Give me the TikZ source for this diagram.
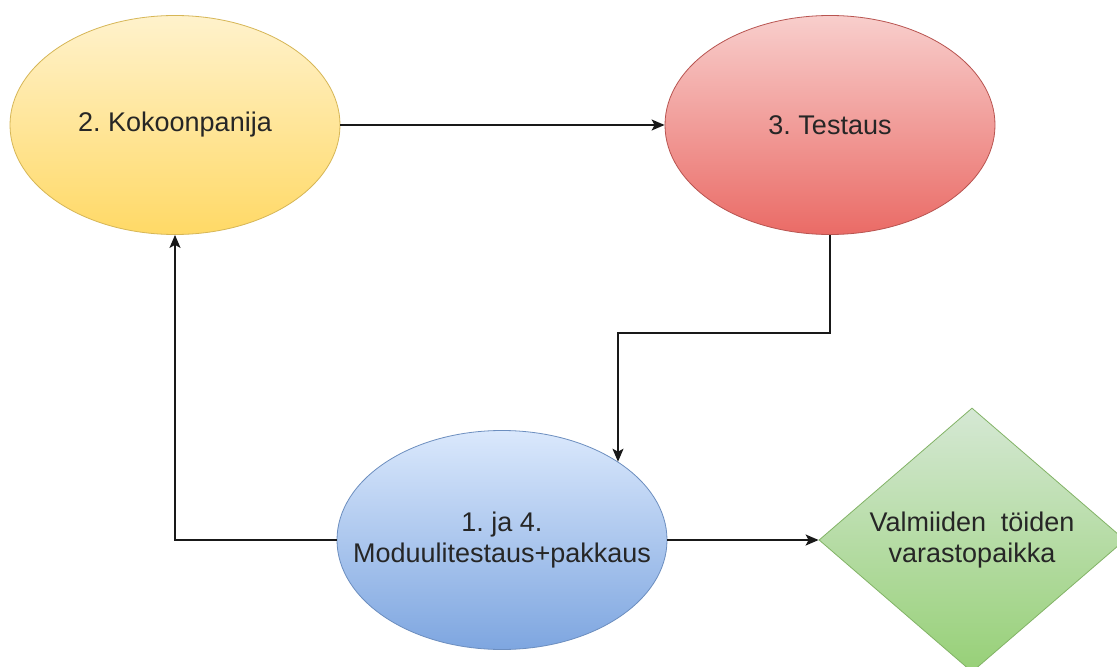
\documentclass[tikz,border=0pt]{standalone}
\usepackage{fontspec}
\setmainfont{Liberation Sans}
\usetikzlibrary{shapes.geometric,arrows.meta}
\frenchspacing
\definecolor{txt}{HTML}{262626}
\definecolor{yelTop}{HTML}{FFF2CC}
\definecolor{yelBot}{HTML}{FFD966}
\definecolor{yelLine}{HTML}{D6B656}
\definecolor{redTop}{HTML}{F8CECC}
\definecolor{redBot}{HTML}{EA6B66}
\definecolor{redLine}{HTML}{B85450}
\definecolor{bluTop}{HTML}{DAE8FC}
\definecolor{bluBot}{HTML}{7EA6E0}
\definecolor{bluLine}{HTML}{6C8EBF}
\definecolor{grnTop}{HTML}{D5E8D4}
\definecolor{grnBot}{HTML}{97D077}
\definecolor{grnLine}{HTML}{82B366}
\tikzset{
  stage/.style={ellipse, draw, line width=0.8bp, minimum width=330bp, minimum height=219bp,
    inner sep=0pt},
  store/.style={diamond, draw, line width=0.8bp, minimum width=306bp, minimum height=264bp,
    aspect=1.16, inner sep=0pt},
  lbl/.style={inner sep=0pt, align=center, text=txt, font=\fontsize{27bp}{31bp}\selectfont},
  flow/.style={line width=1.6bp, draw=black!90, -{Stealth[length=13bp,width=11bp,inset=3bp]}},
}
\begin{document}
\begin{tikzpicture}[x=1bp,y=-1bp]
\useasboundingbox (0,0) rectangle (1117,667);
\clip (0,0) rectangle (1117,667);
\fill[white] (0,0) rectangle (1117,667);

% process stages
\node[stage, draw=yelLine, top color=yelTop, bottom color=yelBot] (yel) at (175,125) {};
\node[stage, draw=redLine, top color=redTop, bottom color=redBot] (red) at (830,125) {};
\node[stage, draw=bluLine, top color=bluTop, bottom color=bluBot] (blu) at (502,540) {};
\node[store, draw=grnLine, top color=grnTop, bottom color=grnBot] (grn) at (972,540) {};

% stage labels
\node[lbl] (yelText) at (yel) {2. Kokoonpanija};
\node[lbl] (redText) at (red) {3. Testaus};
\node[lbl] (bluText) at (blu) {1. ja 4.\\Moduulitestaus+pakkaus};
\node[lbl] (grnText) at (grn) {Valmiiden\hspace{0.55em}töiden\\varastopaikka};

% connectors
\coordinate (drop) at (618,333);
\draw[flow] (yel.east) -- (red.west);
\draw[flow] (red.south) |- (drop) -- (drop |- blu.34);
\draw[flow] (blu.west) -| (yel.south);
\draw[flow] (blu.east) -- (grn.west);
\end{tikzpicture}
\end{document}
